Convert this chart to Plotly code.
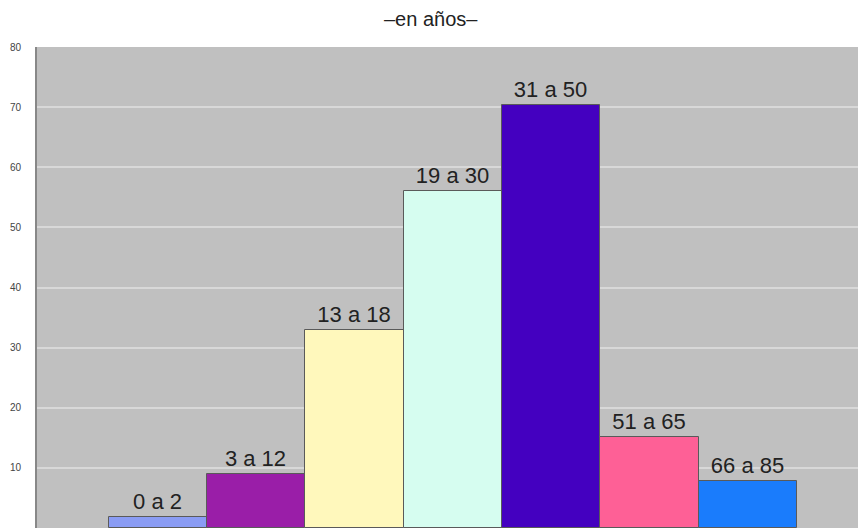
import plotly.graph_objects as go

categories = ["0 a 2", "3 a 12", "13 a 18", "19 a 30", "31 a 50", "51 a 65", "66 a 85"]
values = [1.8, 9, 33, 56, 70.3, 15.2, 7.8]
colors = ["#8a9cf4", "#9a1ea8", "#fff8bc", "#d6fdf0", "#4400c0", "#fe6096", "#1a7cfc"]
y_ticks = [0, 10, 20, 30, 40, 50, 60, 70, 80]

positions = list(range(len(categories)))

fig = go.Figure()
fig.add_trace(go.Bar(
    x=positions,
    y=values,
    width=1,
    marker=dict(color=colors, line=dict(color="#5a5a5a", width=1)),
    text=categories,
    textposition="outside",
    textfont=dict(family="Liberation Sans, Arial, sans-serif", size=22, color="#222222"),
    cliponaxis=False,
    hoverinfo="skip",
))

fig.update_layout(
    width=858,
    height=528,
    margin=dict(l=37, r=0, t=47, b=0),
    paper_bgcolor="white",
    plot_bgcolor="#c0c0c0",
    showlegend=False,
    bargap=0,
    annotations=[dict(
        text="–en años–",
        x=0.48, y=1.0, xref="paper", yref="paper",
        xanchor="center", yanchor="bottom", yshift=15,
        showarrow=False,
        font=dict(family="Liberation Sans, Arial, sans-serif", size=20, color="#222222"),
    )],
)
fig.update_xaxes(
    range=[-1.23, 7.12],
    showticklabels=False,
    showgrid=False,
    zeroline=False,
    ticks="",
)
fig.update_yaxes(
    range=[0, 80],
    tickvals=y_ticks,
    ticktext=[str(v) for v in y_ticks],
    tickfont=dict(family="Liberation Sans, Arial, sans-serif", size=10, color="#444444"),
    showgrid=True,
    gridcolor="#d8d8d8",
    gridwidth=1.5,
    zeroline=False,
    showline=True,
    linecolor="#888888",
    linewidth=2,
    ticks="",
    ticklabelstandoff=12,
)

fig.write_html(
    "out.html",
    config={"displayModeBar": False},
    post_script="document.body.style.margin='0';document.body.style.overflow='hidden';",
)
